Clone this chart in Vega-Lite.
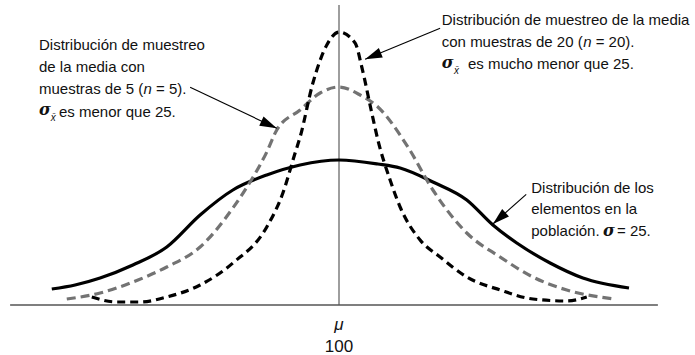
{
  "$schema": "https://vega.github.io/schema/vega-lite/v6.json",
  "width": 695,
  "height": 355,
  "padding": 0,
  "autosize": "none",
  "config": {"view": {"stroke": null}, "background": "white"},
  "datasets": {
    "curvas": [
      {"serie": "poblacion", "x": 48.3, "y": 16},
      {"serie": "poblacion", "x": 52.5, "y": 20},
      {"serie": "poblacion", "x": 57.0, "y": 27},
      {"serie": "poblacion", "x": 62.9, "y": 40},
      {"serie": "poblacion", "x": 69.0, "y": 58},
      {"serie": "poblacion", "x": 75.0, "y": 90},
      {"serie": "poblacion", "x": 80.9, "y": 115},
      {"serie": "poblacion", "x": 87.0, "y": 130},
      {"serie": "poblacion", "x": 93.0, "y": 140},
      {"serie": "poblacion", "x": 100.0, "y": 145},
      {"serie": "poblacion", "x": 107.0, "y": 141},
      {"serie": "poblacion", "x": 111.0, "y": 137},
      {"serie": "poblacion", "x": 116.9, "y": 123},
      {"serie": "poblacion", "x": 123.0, "y": 105},
      {"serie": "poblacion", "x": 127.7, "y": 80},
      {"serie": "poblacion", "x": 132.0, "y": 62},
      {"serie": "poblacion", "x": 138.0, "y": 42},
      {"serie": "poblacion", "x": 143.9, "y": 27},
      {"serie": "poblacion", "x": 152.2, "y": 17},
      {"serie": "n5", "x": 51.0, "y": 6},
      {"serie": "n5", "x": 57.0, "y": 12},
      {"serie": "n5", "x": 62.9, "y": 23},
      {"serie": "n5", "x": 69.0, "y": 38},
      {"serie": "n5", "x": 75.0, "y": 58},
      {"serie": "n5", "x": 80.9, "y": 97},
      {"serie": "n5", "x": 84.0, "y": 123},
      {"serie": "n5", "x": 87.0, "y": 153},
      {"serie": "n5", "x": 88.8, "y": 175},
      {"serie": "n5", "x": 93.0, "y": 195},
      {"serie": "n5", "x": 96.6, "y": 212},
      {"serie": "n5", "x": 100.0, "y": 218},
      {"serie": "n5", "x": 103.8, "y": 210},
      {"serie": "n5", "x": 107.0, "y": 198},
      {"serie": "n5", "x": 112.4, "y": 158},
      {"serie": "n5", "x": 116.9, "y": 115},
      {"serie": "n5", "x": 123.0, "y": 72},
      {"serie": "n5", "x": 129.0, "y": 48},
      {"serie": "n5", "x": 134.9, "y": 28},
      {"serie": "n5", "x": 141.0, "y": 15},
      {"serie": "n5", "x": 149.5, "y": 6},
      {"serie": "n20", "x": 55.5, "y": 8},
      {"serie": "n20", "x": 60.0, "y": 3},
      {"serie": "n20", "x": 64.2, "y": 3},
      {"serie": "n20", "x": 69.0, "y": 8},
      {"serie": "n20", "x": 75.0, "y": 20},
      {"serie": "n20", "x": 80.9, "y": 42},
      {"serie": "n20", "x": 87.0, "y": 78},
      {"serie": "n20", "x": 89.9, "y": 112},
      {"serie": "n20", "x": 92.1, "y": 152},
      {"serie": "n20", "x": 93.0, "y": 168},
      {"serie": "n20", "x": 95.3, "y": 222},
      {"serie": "n20", "x": 97.8, "y": 260},
      {"serie": "n20", "x": 100.0, "y": 273},
      {"serie": "n20", "x": 102.9, "y": 262},
      {"serie": "n20", "x": 104.1, "y": 238},
      {"serie": "n20", "x": 105.9, "y": 192},
      {"serie": "n20", "x": 107.0, "y": 165},
      {"serie": "n20", "x": 109.2, "y": 125},
      {"serie": "n20", "x": 111.0, "y": 98},
      {"serie": "n20", "x": 114.6, "y": 65},
      {"serie": "n20", "x": 118.2, "y": 48},
      {"serie": "n20", "x": 123.0, "y": 28},
      {"serie": "n20", "x": 129.0, "y": 15},
      {"serie": "n20", "x": 134.9, "y": 6},
      {"serie": "n20", "x": 141.0, "y": 4},
      {"serie": "n20", "x": 144.6, "y": 8}
    ],
    "flechas": [
      {"id": "a", "x1": 73.2, "y1": 217.7, "x2": 88.8, "y2": 176.7},
      {"id": "b", "x1": 118.2, "y1": 276.7, "x2": 104.7, "y2": 245.7},
      {"id": "c", "x1": 133.7, "y1": 110.7, "x2": 127.7, "y2": 81}
    ],
    "textos": [
      {"x": 46.0, "y": 255, "t": "Distribución de muestreo"},
      {"x": 46.0, "y": 233, "t": "de la media con"},
      {"x": 46.0, "y": 211, "t": "muestras de 5 ("},
      {"x": 67.06, "y": 211, "t": "= 5)."},
      {"x": 49.6, "y": 188, "t": "es menor que 25."},
      {"x": 118.5, "y": 280, "t": "Distribución de muestreo de la media"},
      {"x": 118.5, "y": 258, "t": "con muestras de 20 ("},
      {"x": 146.2, "y": 258, "t": "= 20)."},
      {"x": 123.2, "y": 236, "t": "es mucho menor que 25."},
      {"x": 134.6, "y": 112, "t": "Distribución de los"},
      {"x": 134.6, "y": 91, "t": "elementos en la"},
      {"x": 134.6, "y": 69, "t": "población."},
      {"x": 150.04, "y": 69, "t": "= 25."}
    ],
    "cursivas": [
      {"x": 64.81, "y": 211, "t": "n"},
      {"x": 143.96, "y": 258, "t": "n"}
    ],
    "sigmas": [
      {"x": 46.0, "y": 190, "t": "σ"},
      {"x": 118.5, "y": 237, "t": "σ"},
      {"x": 147.52, "y": 69, "t": "σ"}
    ],
    "subindices": [
      {"x": 48.1, "y": 184, "t": "x̄"},
      {"x": 120.7, "y": 231, "t": "x̄"}
    ],
    "simbolo": [{"x": 100, "y": -25, "t": "μ"}],
    "valor": [{"x": 100, "y": -47, "t": "100"}],
    "base": [{"x": 40.8, "x2": 157.4, "y": 0}],
    "media": [{"x": 100, "y": 0, "y2": 300}]
  },
  "data": {"name": "curvas"},
  "layer": [
    {
      "data": {"name": "media"},
      "mark": {"type": "rule", "stroke": "#6a6a6a", "strokeWidth": 1.3},
      "encoding": {
        "x": {"field": "x", "type": "quantitative", "scale": {"domain": [38.98, 164.08], "nice": false, "zero": false}, "axis": null},
        "y": {"field": "y", "type": "quantitative", "scale": {"domain": [-50, 305], "nice": false, "zero": false}, "axis": null},
        "y2": {"field": "y2"}
      }
    },
    {
      "data": {"name": "base"},
      "mark": {"type": "rule", "stroke": "#555555", "strokeWidth": 1.3},
      "encoding": {
        "x": {"field": "x", "type": "quantitative"},
        "x2": {"field": "x2"},
        "y": {"field": "y", "type": "quantitative"}
      }
    },
    {
      "transform": [{"filter": "datum.serie === 'poblacion'"}],
      "mark": {"type": "line", "stroke": "#000000", "strokeWidth": 3.2, "interpolate": "monotone"},
      "encoding": {
        "x": {"field": "x", "type": "quantitative"},
        "y": {"field": "y", "type": "quantitative"}
      }
    },
    {
      "transform": [{"filter": "datum.serie === 'n5'"}],
      "mark": {"type": "line", "stroke": "#737373", "strokeWidth": 3.2, "strokeDash": [9, 5], "interpolate": "monotone"},
      "encoding": {
        "x": {"field": "x", "type": "quantitative"},
        "y": {"field": "y", "type": "quantitative"}
      }
    },
    {
      "transform": [{"filter": "datum.serie === 'n20'"}],
      "mark": {"type": "line", "stroke": "#000000", "strokeWidth": 3.2, "strokeDash": [8, 5], "interpolate": "monotone"},
      "encoding": {
        "x": {"field": "x", "type": "quantitative"},
        "y": {"field": "y", "type": "quantitative"}
      }
    },
    {
      "data": {"name": "flechas"},
      "mark": {"type": "rule", "stroke": "#000000", "strokeWidth": 1.1},
      "encoding": {
        "x": {"field": "x1", "type": "quantitative"},
        "y": {"field": "y1", "type": "quantitative"},
        "x2": {"field": "x2"},
        "y2": {"field": "y2"}
      }
    },
    {
      "data": {"name": "flechas"},
      "transform": [{"filter": "datum.id === 'a'"}],
      "mark": {"type": "point", "shape": "M0,0L0.3,1L-0.3,1Z", "filled": true, "fill": "#000000", "size": 1156, "angle": 115.2, "opacity": 1},
      "encoding": {
        "x": {"field": "x2", "type": "quantitative"},
        "y": {"field": "y2", "type": "quantitative"}
      }
    },
    {
      "data": {"name": "flechas"},
      "transform": [{"filter": "datum.id === 'b'"}],
      "mark": {"type": "point", "shape": "M0,0L0.3,1L-0.3,1Z", "filled": true, "fill": "#000000", "size": 1156, "angle": 247.5, "opacity": 1},
      "encoding": {
        "x": {"field": "x2", "type": "quantitative"},
        "y": {"field": "y2", "type": "quantitative"}
      }
    },
    {
      "data": {"name": "flechas"},
      "transform": [{"filter": "datum.id === 'c'"}],
      "mark": {"type": "point", "shape": "M0,0L0.3,1L-0.3,1Z", "filled": true, "fill": "#000000", "size": 1156, "angle": 228.3, "opacity": 1},
      "encoding": {
        "x": {"field": "x2", "type": "quantitative"},
        "y": {"field": "y2", "type": "quantitative"}
      }
    },
    {
      "data": {"name": "textos"},
      "mark": {"type": "text", "align": "left", "baseline": "alphabetic", "font": "Liberation Sans", "fontSize": 15, "fill": "#111111"},
      "encoding": {
        "x": {"field": "x", "type": "quantitative"},
        "y": {"field": "y", "type": "quantitative"},
        "text": {"field": "t"}
      }
    },
    {
      "data": {"name": "cursivas"},
      "mark": {"type": "text", "align": "left", "baseline": "alphabetic", "font": "Liberation Sans", "fontStyle": "italic", "fontSize": 15, "fill": "#111111"},
      "encoding": {
        "x": {"field": "x", "type": "quantitative"},
        "y": {"field": "y", "type": "quantitative"},
        "text": {"field": "t"}
      }
    },
    {
      "data": {"name": "sigmas"},
      "mark": {"type": "text", "align": "left", "baseline": "alphabetic", "font": "DejaVu Serif", "fontStyle": "italic", "fontWeight": "bold", "fontSize": 16, "fill": "#111111"},
      "encoding": {
        "x": {"field": "x", "type": "quantitative"},
        "y": {"field": "y", "type": "quantitative"},
        "text": {"field": "t"}
      }
    },
    {
      "data": {"name": "subindices"},
      "mark": {"type": "text", "align": "left", "baseline": "alphabetic", "font": "Liberation Sans", "fontStyle": "italic", "fontSize": 10, "fill": "#111111"},
      "encoding": {
        "x": {"field": "x", "type": "quantitative"},
        "y": {"field": "y", "type": "quantitative"},
        "text": {"field": "t"}
      }
    },
    {
      "data": {"name": "simbolo"},
      "mark": {"type": "text", "align": "center", "baseline": "alphabetic", "font": "Liberation Sans", "fontStyle": "italic", "fontSize": 17, "fill": "#111111"},
      "encoding": {
        "x": {"field": "x", "type": "quantitative"},
        "y": {"field": "y", "type": "quantitative"},
        "text": {"field": "t"}
      }
    },
    {
      "data": {"name": "valor"},
      "mark": {"type": "text", "align": "center", "baseline": "alphabetic", "font": "Liberation Sans", "fontSize": 17, "fill": "#111111"},
      "encoding": {
        "x": {"field": "x", "type": "quantitative"},
        "y": {"field": "y", "type": "quantitative"},
        "text": {"field": "t"}
      }
    }
  ]
}
